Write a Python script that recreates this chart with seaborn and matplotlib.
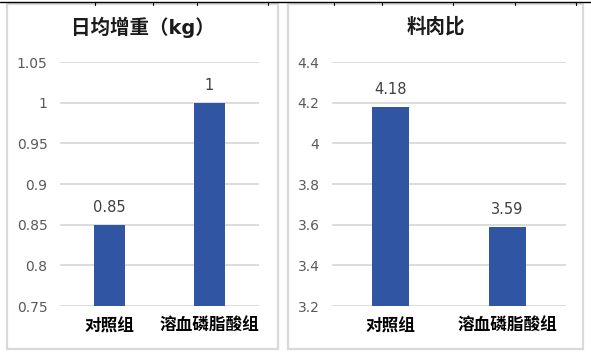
import numpy as np
import matplotlib.pyplot as plt
import seaborn as sns
from matplotlib.patches import Rectangle
from matplotlib.lines import Line2D

# data
groups = ['对照组', '溶血磷脂酸组']
daily_gain = [0.85, 1.0]
feed_ratio = [4.18, 3.59]
gain_ticks = [0.75, 0.8, 0.85, 0.9, 0.95, 1.0, 1.05]
ratio_ticks = [3.2, 3.4, 3.6, 3.8, 4.0, 4.2, 4.4]
titles = ['日均增重（kg）', '料肉比']

BAR = '#2F55A3'
GRID = '#d9d9d9'
W, H = 591, 355

sns.set_style('white')
plt.rcParams['font.family'] = ['DejaVu Sans', 'Noto Sans CJK SC']

fig = plt.figure(figsize=(W / 100, H / 100), dpi=100)

# spreadsheet cell border along the top
fig.add_artist(Line2D([0, 1], [1 - 1.5 / H] * 2, color='black', lw=1.0,
                      transform=fig.transFigure))
for px in [95, 153, 197, 268, 334, 382, 453, 515, 576]:
    fig.add_artist(Line2D([px / W] * 2, [1 - 1.5 / H, 1 - 5 / H], color='black',
                          lw=0.8, transform=fig.transFigure))

# panel frames (pixel boxes: left, top, right, bottom)
panels = [(7, 4, 278, 349), (288, 4, 583, 349)]
axes_px = [(60, 62, 259, 306), (332, 62, 566, 306)]

series = [daily_gain, feed_ratio]
ticks = [gain_ticks, ratio_ticks]

for i in range(2):
    l, t, r, b = panels[i]
    fig.add_artist(Rectangle((l / W, 1 - b / H), (r - l) / W, (b - t) / H,
                             fill=False, edgecolor=GRID, lw=1.6,
                             transform=fig.transFigure))
    fig.text((l + r) / 2 / W, 1 - 27 / H, titles[i], ha='center', va='center',
             fontsize=14, fontweight='bold', color='#1a1a1a')

    al, at, ar, ab = axes_px[i]
    ax = fig.add_axes([al / W, 1 - ab / H, (ar - al) / W, (ab - at) / H])
    sns.barplot(x=groups, y=series[i], color=BAR, width=0.31, saturation=1,
                linewidth=0, ax=ax, zorder=3)
    ax.set_ylim(ticks[i][0], ticks[i][-1])
    ax.set_yticks(ticks[i])
    ax.set_yticklabels([f'{v:g}' for v in ticks[i]])
    ax.yaxis.grid(True, color=GRID, lw=1.3, zorder=0)
    ax.set_axisbelow(True)
    for s in ax.spines.values():
        s.set_visible(False)
    ax.tick_params(axis='y', length=0, pad=9, labelsize=10, labelcolor='#595959')
    ax.tick_params(axis='x', length=0, pad=8, labelsize=12)
    for lab in ax.get_xticklabels():
        lab.set_fontweight('bold')
        lab.set_color('black')
    ax.set_xlabel('')
    ax.set_ylabel('')
    ax.bar_label(ax.containers[0], labels=[f'{v:g}' for v in series[i]],
                 padding=7, fontsize=10.5, color='#404040')

fig.savefig('out.png', dpi=100)
